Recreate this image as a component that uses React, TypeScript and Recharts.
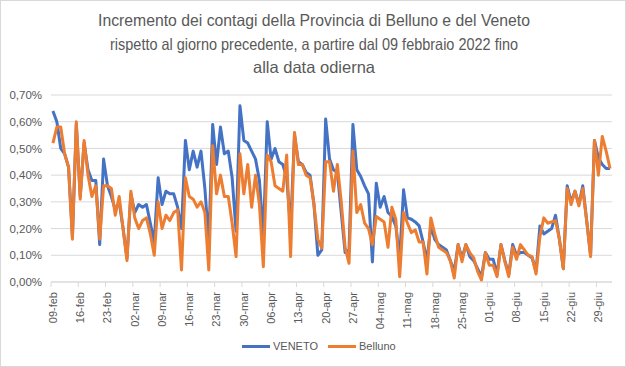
import React from "react";
import { LineChart, Line, XAxis, YAxis, CartesianGrid } from "recharts";

const TICK_LABELS = [
  "09-feb", "16-feb", "23-feb", "02-mar", "09-mar", "16-mar", "23-mar",
  "30-mar", "06-apr", "13-apr", "20-apr", "27-apr", "04-mag", "11-mag",
  "18-mag", "25-mag", "01-giu", "08-giu", "15-giu", "22-giu", "29-giu",
];

const TITLE_LINES = [
  "Incremento dei contagi della Provincia di Belluno e del  Veneto",
  "rispetto al giorno precedente, a partire dal 09 febbraio 2022 fino",
  "alla data odierna",
];

const Y_TICKS = [0, 0.1, 0.2, 0.3, 0.4, 0.5, 0.6, 0.7];

// daily increment, % (09-feb .. 02-lug)
const VENETO = [
  0.64, 0.6, 0.5, 0.48, 0.43, 0.17, 0.59, 0.32, 0.52, 0.42,
  0.38, 0.38, 0.14, 0.46, 0.36, 0.32, 0.27, 0.3, 0.2, 0.09,
  0.33, 0.26, 0.29, 0.28, 0.29, 0.22, 0.15, 0.39, 0.29, 0.34,
  0.33, 0.33, 0.28, 0.2, 0.53, 0.42, 0.49, 0.43, 0.49, 0.35,
  0.15, 0.59, 0.44, 0.58, 0.48, 0.49, 0.39, 0.19, 0.66, 0.53,
  0.52, 0.49, 0.46, 0.38, 0.17, 0.6, 0.46, 0.5, 0.45, 0.44,
  0.39, 0.2, 0.55, 0.45, 0.44, 0.41, 0.4, 0.29, 0.1, 0.12,
  0.61, 0.46, 0.42, 0.41, 0.26, 0.11, 0.12, 0.59, 0.42, 0.395,
  0.36, 0.33, 0.075, 0.37, 0.28, 0.32, 0.26, 0.245, 0.21, 0.09,
  0.345, 0.24, 0.235, 0.225, 0.21, 0.15, 0.08, 0.21, 0.16, 0.14,
  0.13, 0.12, 0.08, 0.04, 0.14, 0.09, 0.14, 0.095, 0.08, 0.05,
  0.02, 0.11, 0.085, 0.085, 0.03, 0.14, 0.08, 0.03, 0.14, 0.1,
  0.11, 0.11, 0.1, 0.09, 0.04, 0.21, 0.18, 0.19, 0.2, 0.25,
  0.16, 0.05, 0.36, 0.3, 0.34, 0.29, 0.36, 0.23, 0.1, 0.53,
  0.465, 0.44, 0.425, 0.425,
];

const BELLUNO = [
  0.52, 0.58, 0.58, 0.48, 0.43, 0.16, 0.6, 0.31, 0.53, 0.4,
  0.32, 0.36, 0.16, 0.36, 0.36, 0.35, 0.25, 0.32, 0.2, 0.08,
  0.34, 0.24, 0.2, 0.23, 0.24, 0.18, 0.1, 0.3, 0.2, 0.25,
  0.23, 0.26, 0.27, 0.045, 0.39, 0.32, 0.31, 0.28, 0.3, 0.26,
  0.045, 0.51, 0.33, 0.4, 0.32, 0.32, 0.22, 0.095, 0.48, 0.33,
  0.44, 0.28, 0.4, 0.29, 0.057, 0.475, 0.45, 0.36, 0.35, 0.34,
  0.475, 0.095, 0.56, 0.44, 0.44, 0.4, 0.39, 0.29, 0.16, 0.127,
  0.45, 0.45, 0.34, 0.44, 0.3, 0.13, 0.07, 0.49, 0.26, 0.29,
  0.22, 0.2, 0.14, 0.245, 0.235, 0.225, 0.13, 0.28, 0.235, 0.02,
  0.26, 0.22, 0.185, 0.195, 0.15, 0.15, 0.03, 0.24, 0.18, 0.13,
  0.12, 0.11, 0.08, 0.015, 0.14, 0.076, 0.14, 0.11, 0.09, 0.04,
  0.007, 0.11, 0.063, 0.063, 0.02, 0.14, 0.076, 0.02, 0.13, 0.085,
  0.14, 0.12, 0.1, 0.095, 0.03, 0.17, 0.24, 0.22, 0.225, 0.23,
  0.16, 0.05, 0.35, 0.29, 0.34, 0.285, 0.35, 0.23, 0.095, 0.53,
  0.4, 0.545, 0.49, 0.425,
];

const BLUE = "#4472C4";
const ORANGE = "#ED7D31";
const GRID = "#d9d9d9";
const TEXT = "#595959";
const FONT = "'Liberation Sans', Arial, sans-serif";

const data = VENETO.map((v, i) => ({ i, veneto: v, belluno: BELLUNO[i] }));
// tick marks sit on category boundaries, every 7 days
const xTicks = TICK_LABELS.map((_, k) => k * 7 - 0.5);

const fmtPct = (v: number) => v.toFixed(2).replace(".", ",") + "%";

const DateTick = (props: any) => {
  const { x, y, payload } = props;
  const label = TICK_LABELS[Math.round((payload.value + 0.5) / 7)];
  const cx = x + 2;
  return (
    <text
      x={0}
      y={0}
      dy="0.35em"
      transform={`translate(${cx},${y + 3}) rotate(-90)`}
      textAnchor="end"
      fill={TEXT}
      fontSize={11}
      fontFamily={FONT}
    >
      {label}
    </text>
  );
};

export default function App() {
  return (
    <div
      style={{
        position: "absolute",
        left: 0,
        top: 0,
        width: 626,
        height: 367,
        background: "#fff",
        fontFamily: FONT,
      }}
    >
      <svg
        width={626}
        height={90}
        style={{ position: "absolute", left: 0, top: 0 }}
        fontFamily={FONT}
      >
        <text x={314} y={26} textAnchor="middle" fontSize={16.5} fill={TEXT} textLength={432} lengthAdjust="spacingAndGlyphs">
          {TITLE_LINES[0]}
        </text>
        <text x={314} y={50} textAnchor="middle" fontSize={16.5} fill={TEXT} textLength={408} lengthAdjust="spacingAndGlyphs">
          {TITLE_LINES[1]}
        </text>
        <text x={314} y={73} textAnchor="middle" fontSize={16.5} fill={TEXT}>
          {TITLE_LINES[2]}
        </text>
      </svg>

      <div style={{ position: "absolute", left: 0, top: 0 }}>
        <LineChart
          width={626}
          height={367}
          data={data}
          margin={{ top: 95, right: 14, left: 0, bottom: 40 }}
        >
          <CartesianGrid vertical={false} stroke={GRID} />
          <XAxis
            dataKey="i"
            type="number"
            domain={[-0.5, 143.5]}
            ticks={xTicks}
            interval={0}
            height={45}
            axisLine={{ stroke: GRID }}
            tickLine={{ stroke: GRID }}
            tickSize={5}
            tick={<DateTick />}
          />
          <YAxis
            domain={[0, 0.7]}
            ticks={Y_TICKS}
            width={51}
            axisLine={false}
            tickLine={false}
            tickMargin={3}
            tickFormatter={fmtPct}
            tick={{ fill: TEXT, fontSize: 11.5, fontFamily: FONT }}
          />
          <Line
            dataKey="veneto"
            stroke={BLUE}
            strokeWidth={3}
            dot={false}
            strokeLinejoin="round"
            isAnimationActive={false}
          />
          <Line
            dataKey="belluno"
            stroke={ORANGE}
            strokeWidth={3}
            dot={false}
            strokeLinejoin="round"
            isAnimationActive={false}
          />
        </LineChart>
      </div>

      <div style={{ position: "absolute", left: 242, top: 340, display: "flex", alignItems: "center", fontSize: 11, color: TEXT }}>
        <span style={{ display: "inline-block", width: 28, height: 3, background: BLUE, marginRight: 3 }} />
        <span>VENETO</span>
        <span style={{ display: "inline-block", width: 28, height: 3, background: ORANGE, marginLeft: 10, marginRight: 3 }} />
        <span>Belluno</span>
      </div>

      <div
        style={{
          position: "absolute",
          left: 0,
          top: 0,
          width: 626,
          height: 367,
          boxSizing: "border-box",
          border: `1px solid ${GRID}`,
          pointerEvents: "none",
        }}
      />
    </div>
  );
}
